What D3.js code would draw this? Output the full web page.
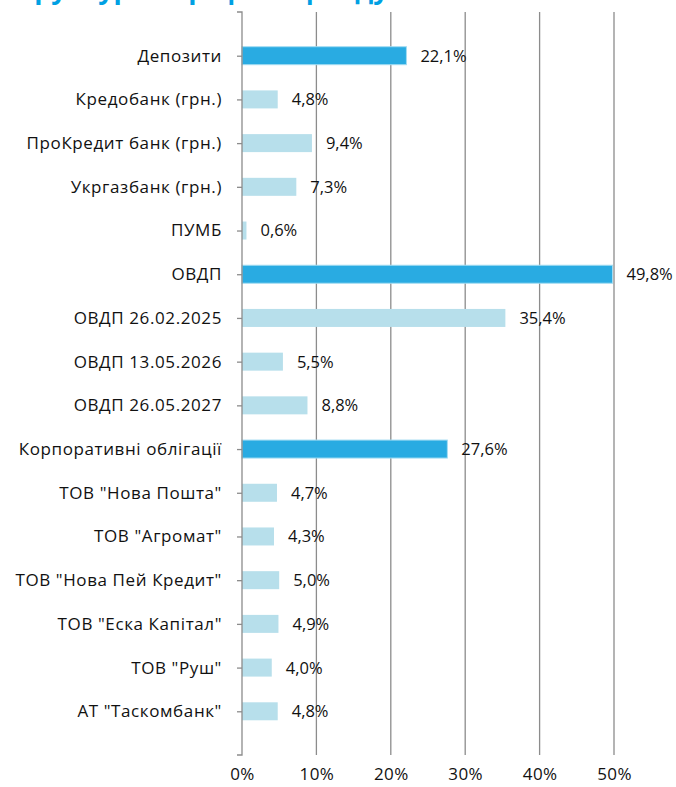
<!DOCTYPE html>
<html>
<head>
<meta charset="utf-8">
<script src="https://cdn.jsdelivr.net/npm/d3@7"></script>
<style>
  body { margin: 0; background: #fff; }
  svg { display: block; font-family: "Open Sans", sans-serif; }
</style>
</head>
<body>
<svg id="chart" width="676" height="787"></svg>
<script>
var categories = ["Депозити", "Кредобанк (грн.)", "ПроКредит банк (грн.)", "Укргазбанк (грн.)", "ПУМБ",
  "ОВДП", "ОВДП 26.02.2025", "ОВДП 13.05.2026", "ОВДП 26.05.2027",
  "Корпоративні облігації", "ТОВ \"Нова Пошта\"", "ТОВ \"Агромат\"", "ТОВ \"Нова Пей Кредит\"",
  "ТОВ \"Еска Капітал\"", "ТОВ \"Руш\"", "АТ \"Таскомбанк\""];
var values = [22.1, 4.8, 9.4, 7.3, 0.6, 49.8, 35.4, 5.5, 8.8, 27.6, 4.7, 4.3, 5.0, 4.9, 4.0, 4.8];
var groups = ["Депозити", "ОВДП", "Корпоративні облігації"];
var xTicks = [0, 10, 20, 30, 40, 50];
var title = "Структура портфеля фонду";

var margin = {top: 12, left: 242, right: 62, bottom: 32};
var width = 676 - margin.left - margin.right;
var height = 787 - margin.top - margin.bottom;

var svg = d3.select("#chart");

// title cut off by the top edge, only its tails show
svg.append("text")
  .attr("x", 2)
  .attr("y", -1)
  .attr("font-size", 27)
  .attr("font-weight", "bold")
  .attr("fill", "#00a0e3")
  .text(title);

var g = svg.append("g")
  .attr("transform", "translate(" + margin.left + "," + margin.top + ")");

var x = d3.scaleLinear().domain([0, 50]).range([0, width]);
var y = d3.scalePoint().domain(categories).range([0, height]).padding(1);

// grid
g.selectAll(".grid")
  .data(xTicks.slice(1)).enter()
  .append("line")
  .attr("x1", function(d){ return x(d); })
  .attr("x2", function(d){ return x(d); })
  .attr("y1", 0)
  .attr("y2", height)
  .attr("stroke", "#8c8c8c")
  .attr("stroke-width", 1.3);

var xAxis = d3.axisBottom(x)
  .tickValues(xTicks)
  .tickSize(0)
  .tickPadding(13)
  .tickFormat(function(d){ return d + "%"; });

var gx = g.append("g")
  .attr("transform", "translate(0," + height + ")")
  .call(xAxis);
gx.select(".domain").remove();
gx.selectAll("text").attr("font-size", 17).attr("fill", "#111")
  .attr("letter-spacing", 0.4)
  .attr("font-family", "\"Open Sans\", sans-serif");

// bars
var barH = 18;
g.selectAll(".bar")
  .data(values).enter()
  .append("rect")
  .attr("x", 0)
  .attr("y", function(d, i){ return y(categories[i]) - barH / 2; })
  .attr("width", function(d){ return x(d); })
  .attr("height", barH)
  .attr("fill", function(d, i){ return groups.indexOf(categories[i]) >= 0 ? "#29abe2" : "#b7dfeb"; })
  .attr("stroke", function(d, i){ return groups.indexOf(categories[i]) >= 0 ? "#a3dcf2" : "none"; })
  .attr("stroke-width", 1);

// value labels
g.selectAll(".val")
  .data(values).enter()
  .append("text")
  .attr("x", function(d){ return x(d) + 14; })
  .attr("y", function(d, i){ return y(categories[i]); })
  .attr("dy", "0.36em")
  .attr("font-size", 16.5)
  .attr("fill", "#111")
  .text(function(d){ return d.toFixed(1).replace(".", ",") + "%"; });

// category axis
var yAxis = d3.axisLeft(y).tickSize(5).tickPadding(15);
var gy = g.append("g").call(yAxis);
gy.select(".domain").remove();
gy.selectAll("line").attr("stroke", "#8c8c8c").attr("stroke-width", 1.3);
gy.selectAll("text").attr("font-size", 17).attr("fill", "#111")
  .attr("letter-spacing", 0.6)
  .attr("font-family", "\"Open Sans\", sans-serif");

g.append("path")
  .attr("d", "M-5,0H0V" + height + "H-5")
  .attr("fill", "none")
  .attr("stroke", "#8c8c8c")
  .attr("stroke-width", 1.3);
</script>
</body>
</html>
